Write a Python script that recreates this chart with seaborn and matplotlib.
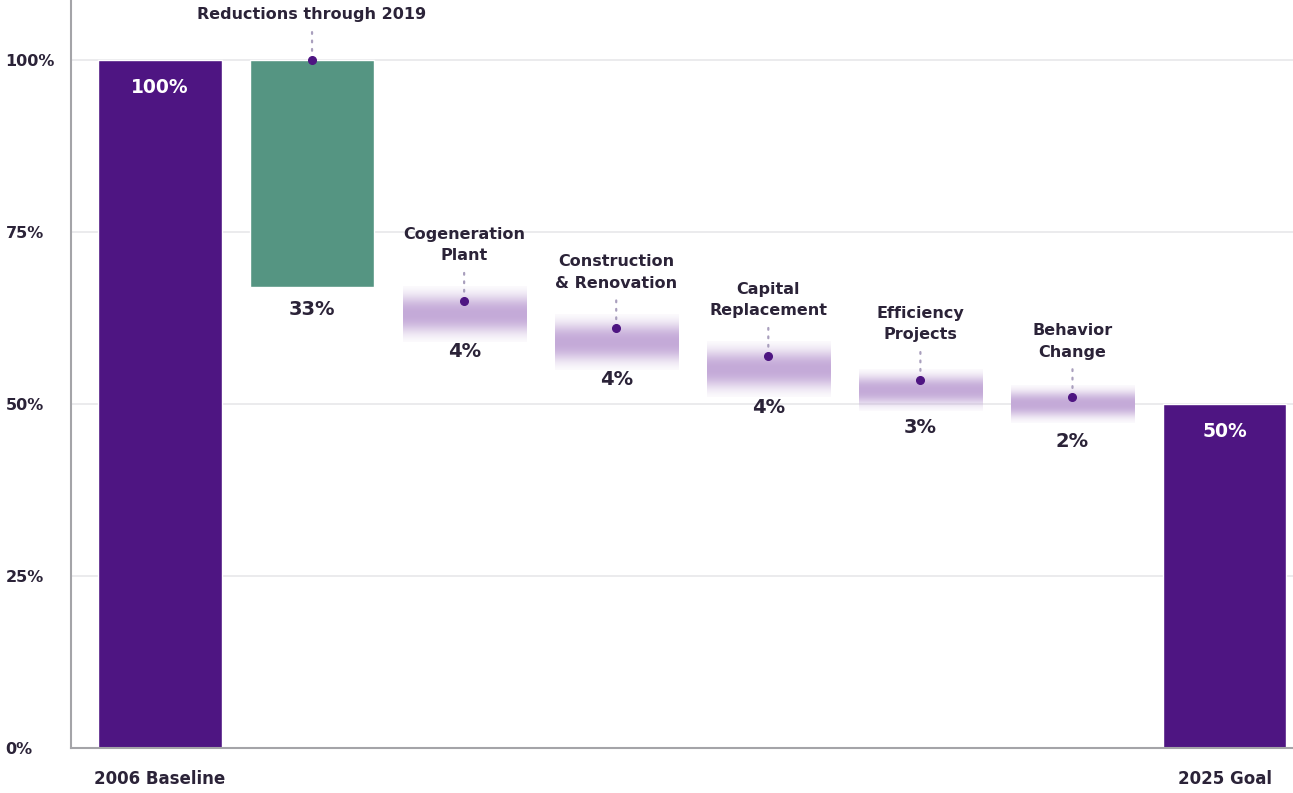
import numpy as np
import pandas as pd
import matplotlib
matplotlib.use("Agg")
import matplotlib.pyplot as plt
import seaborn as sns

# ---- data -------------------------------------------------------------
categories = ["2006 Baseline", "Reductions through 2019", "Cogeneration\nPlant",
              "Construction\n& Renovation", "Capital\nReplacement",
              "Efficiency\nProjects", "Behavior\nChange", "2025 Goal"]
baseline = 100
reductions = [33, 4, 4, 4, 3, 2]
goal = 50
y_ticks = [0, 25, 50, 75, 100]
y_tick_labels = ["0%", "25%", "50%", "75%", "100%"]

# ---- style ------------------------------------------------------------
PURPLE = "#4e1582"
GREEN = "#559582"
LAVENDER = (0.77, 0.67, 0.85)
TEXT = "#2b2338"
GRID = "#e8e8ea"
SPINE = "#a4a4a8"
DOTLINE = "#a99fbd"

sns.set_theme(style="white")
plt.rcParams["font.family"] = ["DejaVu Sans"]
plt.rcParams["font.weight"] = "bold"

fig = plt.figure(figsize=(12.93, 7.93), dpi=100)
ax = fig.add_axes([71 / 1293, 45 / 793, 1 - 71 / 1293, 1 - 45 / 793])

n = len(categories)
bar_w = 0.81

# totals at both ends drawn with seaborn
totals = pd.DataFrame({"cat": categories,
                       "val": [baseline] + [0] * len(reductions) + [goal]})
sns.barplot(data=totals, x="cat", y="val", order=categories, color=PURPLE,
            saturation=1, width=bar_w, ax=ax, zorder=3)

# running levels of the waterfall
levels = [baseline]
for r in reductions:
    levels.append(levels[-1] - r)

# first step: solid bar
ax.bar(1, reductions[0], bottom=levels[1], width=bar_w, color=GREEN, zorder=3)

# remaining steps: soft gradient bands centred on the new level
prof_n = 300
for i, r in enumerate(reductions[1:], start=2):
    bot = levels[i]
    hw = max(r, 2.7)
    lo, hi = bot - hw, bot + hw
    yy = np.linspace(hi, lo, prof_n)
    alpha = np.exp(-0.5 * np.abs((yy - bot) / (0.5 * hw)) ** 2.5)
    img = np.zeros((prof_n, 1, 4))
    img[:, 0, :3] = LAVENDER
    img[:, 0, 3] = alpha
    ax.imshow(img, extent=(i - bar_w / 2, i + bar_w / 2, lo, hi),
              aspect="auto", interpolation="bilinear", zorder=3)

# markers, leader dots and labels for each reduction
for i, r in enumerate(reductions, start=1):
    top = levels[i - 1]
    bot = levels[i]
    dot_y = top if i == 1 else (top + bot) / 2
    ax.plot([i], [dot_y], "o", color=PURPLE, ms=5.5, zorder=5)
    ax.annotate("", xy=(i, dot_y), xytext=(0, 20), textcoords="offset points",
                arrowprops=dict(arrowstyle="-", color=DOTLINE, lw=1.6,
                                linestyle=(0, (0.8, 3.0)), shrinkA=0, shrinkB=4,
                                capstyle="round"),
                annotation_clip=False, zorder=4)
    ax.annotate(categories[i], xy=(i, dot_y), xytext=(0, 27),
                textcoords="offset points", ha="center", va="bottom",
                fontsize=11.5, fontweight="bold", color=TEXT,
                linespacing=1.55, annotation_clip=False)
    off = -16 if i == 1 else -27
    ax.annotate(f"{r}%", xy=(i, bot), xytext=(0, off),
                textcoords="offset points", ha="center", va="center",
                fontsize=14, fontweight="bold", color=TEXT,
                annotation_clip=False)

# values inside the end bars
for x, v in [(0, baseline), (n - 1, goal)]:
    ax.annotate(f"{v}%", xy=(x, v), xytext=(0, -20),
                textcoords="offset points", ha="center", va="center",
                fontsize=13.5, fontweight="bold", color="white", zorder=6)

# ---- axes -------------------------------------------------------------
ax.set_xlim(-0.585, 7.45)
ax.set_ylim(0, 108.7)
ax.set_yticks(y_ticks)
ax.set_yticklabels(y_tick_labels)
ax.set_xticks([0, n - 1])
ax.set_xticklabels([categories[0], categories[-1]])
ax.set_xlabel("")
ax.set_ylabel("")
for y in y_ticks[1:]:
    ax.axhline(y, color=GRID, lw=1.2, zorder=1)
ax.tick_params(axis="y", length=0, pad=47.2, labelsize=11.5, labelcolor=TEXT)
ax.tick_params(axis="x", length=0, pad=16, labelsize=12, labelcolor=TEXT)
for lab in ax.get_yticklabels():
    lab.set_ha("left")
    lab.set_fontweight("bold")
for lab in ax.get_xticklabels():
    lab.set_fontweight("bold")
for side in ["top", "right"]:
    ax.spines[side].set_visible(False)
for side in ["left", "bottom"]:
    ax.spines[side].set_color(SPINE)
    ax.spines[side].set_linewidth(1.5)
    ax.spines[side].set_zorder(4)

fig.savefig("out.png", dpi=100, facecolor="white")
